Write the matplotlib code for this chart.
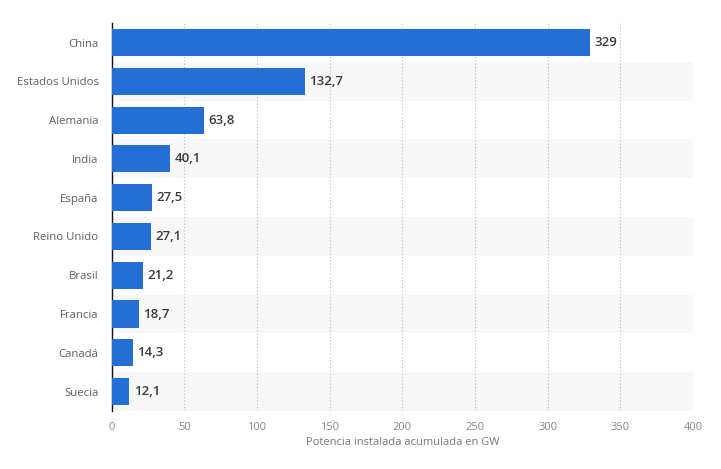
import matplotlib.pyplot as plt

# Potencia eólica instalada acumulada (GW)
paises = ['China', 'Estados Unidos', 'Alemania', 'India', 'España',
          'Reino Unido', 'Brasil', 'Francia', 'Canadá', 'Suecia']
valores = [329, 132.7, 63.8, 40.1, 27.5, 27.1, 21.2, 18.7, 14.3, 12.1]
etiquetas = ['329', '132,7', '63,8', '40,1', '27,5', '27,1', '21,2', '18,7', '14,3', '12,1']
ticks_x = [0, 50, 100, 150, 200, 250, 300, 350, 400]

plt.rcParams['font.family'] = ['Open Sans', 'DejaVu Sans']

fig = plt.figure(figsize=(7.21, 4.69), dpi=100)
ax = fig.add_axes([0.155, 0.1237, 0.806, 0.827])

n = len(paises)
pos = list(range(n))

# alternating background bands
for i in pos:
    if i % 2 == 1:
        ax.axhspan(i - 0.5, i + 0.5, color='#f7f7f7', zorder=0, lw=0)

ax.barh(pos, valores, height=0.7, color='#246fd4', zorder=3)

for i, v in enumerate(valores):
    ax.text(v + 3, i, etiquetas[i], va='center', ha='left', fontsize=9.5,
            fontweight='semibold', color='#3a3a3a', zorder=4)

ax.set_xlim(0, 400)
ax.set_ylim(n - 0.5, -0.5)
ax.set_xticks(ticks_x)
ax.set_yticks(pos)
ax.set_yticklabels(paises)
ax.xaxis.grid(True, linestyle=(0, (1, 2)), color='#bbbbbb', linewidth=0.8, zorder=1)
ax.set_axisbelow(True)

for s in ['top', 'right', 'bottom']:
    ax.spines[s].set_visible(False)
ax.spines['left'].set_color('#111111')
ax.spines['left'].set_linewidth(1.0)

ax.tick_params(axis='x', length=0, labelsize=8, labelcolor='#888888', pad=8)
ax.tick_params(axis='y', length=0, labelsize=8.2, labelcolor='#5f5f5f', pad=9.5)
ax.set_xlabel('Potencia instalada acumulada en GW', fontsize=8, color='#777777', labelpad=3)

fig.savefig('out.png', dpi=100)
